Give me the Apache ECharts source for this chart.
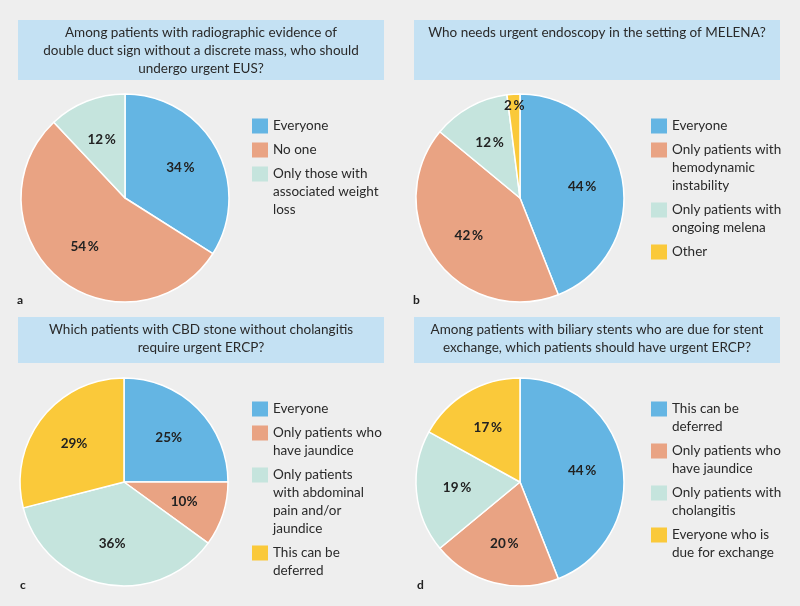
<!DOCTYPE html>
<html><head><meta charset="utf-8">
<script src="https://cdn.jsdelivr.net/npm/echarts@6/dist/echarts.min.js"></script>
<style>html,body{margin:0;padding:0;background:#eeeeee}#c{width:800px;height:606px}</style>
</head><body><div id="c"></div>
<script>
// ---- data ----
const titleA = 'Among patients with radiographic evidence of\ndouble duct sign without a discrete mass, who should\nundergo urgent EUS?';
const catsA = ['Everyone', 'No one', 'Only those with\nassociated weight\nloss'];
const valsA = [34, 54, 12];

const titleB = 'Who needs urgent endoscopy in the setting of MELENA?';
const catsB = ['Everyone', 'Only patients with\nhemodynamic\ninstability', 'Only patients with\nongoing melena', 'Other'];
const valsB = [44, 42, 12, 2];

const titleC = 'Which patients with CBD stone without cholangitis\nrequire urgent ERCP?';
const catsC = ['Everyone', 'Only patients who\nhave jaundice', 'Only patients\nwith abdominal\npain and/or\njaundice', 'This can be\ndeferred'];
const valsC = [25, 10, 36, 29];

const titleD = 'Among patients with biliary stents who are due for stent\nexchange, which patients should have urgent ERCP?';
const catsD = ['This can be\ndeferred', 'Only patients who\nhave jaundice', 'Only patients with\ncholangitis', 'Everyone who is\ndue for exchange'];
const valsD = [44, 20, 19, 17];

const panelLetters = ['a', 'b', 'c', 'd'];

// ---- styles / layout ----
const BLUE = '#64b5e3', ORANGE = '#e9a383', TEAL = '#c5e4dd', YELLOW = '#fac93a';
const FONT = 'Lato, "Noto Sans", sans-serif';
const R = 104;
const panels = [
  {title: titleA, cats: catsA, vals: valsA, colors: [BLUE, ORANGE, TEAL], box: [18, 20, 366, 60], center: [125, 198], legX: 252, legY: 126, letter: [17, 300], sep: '\u2009'},
  {title: titleB, cats: catsB, vals: valsB, colors: [BLUE, ORANGE, TEAL, YELLOW], box: [414, 20, 366, 60], center: [520, 198], legX: 651, legY: 126, letter: [413, 300], sep: '\u2009'},
  {title: titleC, cats: catsC, vals: valsC, colors: [BLUE, ORANGE, TEAL, YELLOW], box: [18, 317, 366, 46], center: [124, 482], legX: 252, legY: 409, letter: [20, 585], sep: ''},
  {title: titleD, cats: catsD, vals: valsD, colors: [BLUE, ORANGE, TEAL, YELLOW], box: [414, 317, 366, 46], center: [520, 482], legX: 651, legY: 409, letter: [417, 585], sep: '\u2009'}
];

const series = [];
const graphic = [];
panels.forEach((p, pi) => {
  // title box
  graphic.push({type: 'rect', shape: {x: p.box[0], y: p.box[1], width: p.box[2], height: p.box[3]}, style: {fill: '#c4e1f3'}, silent: true});
  graphic.push({type: 'text', x: p.box[0] + p.box[2] / 2, y: p.box[1] + 4,
    style: {text: p.title, font: '13.5px ' + FONT, fill: '#2a2a2a', align: 'center', verticalAlign: 'top', lineHeight: 18}, silent: true});
  // panel letter
  graphic.push({type: 'text', x: p.letter[0], y: p.letter[1], style: {text: panelLetters[pi], font: 'bold 12px ' + FONT, fill: '#222', verticalAlign: 'middle'}, silent: true});
  // legend
  let y = p.legY;
  p.cats.forEach((c, i) => {
    const lines = c.split('\n').length;
    graphic.push({type: 'rect', shape: {x: p.legX, y: y - 7.5, width: 16, height: 15}, style: {fill: p.colors[i]}, silent: true});
    graphic.push({type: 'text', x: p.legX + 21, y: y - 9, style: {text: c, font: '13.5px ' + FONT, fill: '#2a2a2a', verticalAlign: 'top', lineHeight: 18}, silent: true});
    y += lines * 18 + 6;
  });
  const cx = p.center[0], cy = p.center[1];
  series.push({
    type: 'pie', center: p.center, radius: R, startAngle: 90, clockwise: true,
    avoidLabelOverlap: false, silent: true, animation: false,
    itemStyle: {borderColor: '#ffffff', borderWidth: 1.5},
    label: {show: true, position: 'inside', formatter: '{c}' + p.sep + '%', fontFamily: FONT, fontWeight: 'bold', fontSize: 13.5, color: '#222'},
    labelLine: {show: false},
    labelLayout: function (prm) {
      const lr = prm.labelRect;
      const lx = lr.x + lr.width / 2, ly = lr.y + lr.height / 2;
      const v = p.vals[prm.dataIndex];
      const k = v < 5 ? 0.68 : 0.15;
      return {dx: (lx - cx) * k, dy: (ly - cy) * k};
    },
    data: p.cats.map((c, i) => ({name: c, value: p.vals[i], itemStyle: {color: p.colors[i]}}))
  });
});

const chart = echarts.init(document.getElementById('c'), null, {renderer: 'canvas'});
chart.setOption({backgroundColor: '#eeeeee', animation: false, series: series, graphic: graphic});
</script></body></html>
